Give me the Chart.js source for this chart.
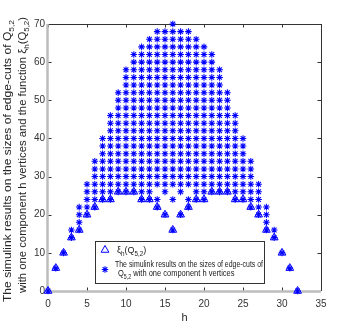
<!DOCTYPE html>
<html lang="en">
<head>
<meta charset="UTF-8">
<title>Edge-cuts of Q5,2</title>
<script src="https://cdn.jsdelivr.net/npm/chart.js"></script>
<style>
    html, body { margin: 0; padding: 0; background: #fff; }
    #wrap { width: 354px; height: 327px; }
</style>
</head>
<body>
<div id="wrap"><canvas id="grafico" width="354" height="327"></canvas></div>
<script>
    // h = number of vertices of the component
    const hValues = [0,1,2,3,4,5,6,7,8,9,10,11,12,13,14,15,16,17,18,19,20,21,22,23,24,25,26,27,28,29,30,31,32];
    // xi_h(Q5,2) (triangles)
    const xiValues = [0,6,10,14,16,20,22,24,24,26,26,26,24,24,22,20,16,20,22,24,24,26,26,26,24,24,22,20,16,14,10,6,0];
    // largest edge-cut found by the simulink runs for each h
    const simMax = [0,6,10,16,22,28,34,40,46,52,58,62,64,66,68,68,70,68,68,66,64,62,58,52,46,40,34,28,22,16,10,6,0];
    // edge-cut sizes that do not appear in a column
    const simGaps = { 14: [26], 15: [22, 24], 16: [18, 20, 22, 26], 17: [22, 24], 18: [26] };
    const xTicks = [0, 5, 10, 15, 20, 25, 30, 35];
    const yTicks = [0, 10, 20, 30, 40, 50, 60, 70];

    const azul = '#0000ff';
    const fuente = '"Liberation Sans", Arial, sans-serif';

    const xiPoints = hValues.map((h, i) => ({ x: h, y: xiValues[i] }));
    const simPoints = [];
    hValues.forEach((h, i) => {
        const gaps = simGaps[h] || [];
        for (let v = xiValues[i]; v <= simMax[i]; v += 2) {
            if (!gaps.includes(v)) simPoints.push({ x: h, y: v });
        }
    });

    // text with subscripts, pieces = [[text, isSub], ...]
    function piecesWidth(ctx, pieces, size) {
        let w = 0;
        pieces.forEach(p => {
            ctx.font = (p[1] ? size * 0.7 : size) + 'px ' + fuente;
            w += ctx.measureText(p[0]).width;
        });
        return w;
    }
    function drawPieces(ctx, pieces, x, y, size) {
        pieces.forEach(p => {
            ctx.font = (p[1] ? size * 0.7 : size) + 'px ' + fuente;
            ctx.fillText(p[0], x, p[1] ? y + size * 0.3 : y);
            x += ctx.measureText(p[0]).width;
        });
    }
    // centred line stretched to a given length
    function drawStretched(ctx, pieces, cx, y, size, len) {
        const w = piecesWidth(ctx, pieces, size);
        ctx.save();
        ctx.translate(cx - len / 2, y);
        ctx.scale(len / w, 1);
        drawPieces(ctx, pieces, 0, 0, size);
        ctx.restore();
    }

    const marcoPlugin = {
        id: 'marco',
        beforeDatasetsDraw(chart) {
            const { ctx, chartArea: a, scales } = chart;
            ctx.save();
            // top and right box lines
            ctx.strokeStyle = '#333333';
            ctx.lineWidth = 1;
            ctx.beginPath();
            ctx.moveTo(a.left, a.top + 0.5); ctx.lineTo(a.right + 0.5, a.top + 0.5);
            ctx.lineTo(a.right + 0.5, a.bottom);
            ctx.stroke();
            // inner ticks
            ctx.beginPath();
            xTicks.forEach(v => {
                const px = Math.round(scales.x.getPixelForValue(v)) + 0.5;
                ctx.moveTo(px, a.bottom); ctx.lineTo(px, a.bottom - 3.5);
                ctx.moveTo(px, a.top); ctx.lineTo(px, a.top + 3.5);
            });
            yTicks.forEach(v => {
                const py = Math.round(scales.y.getPixelForValue(v)) + 0.5;
                ctx.moveTo(a.left, py); ctx.lineTo(a.left + 3.5, py);
                ctx.moveTo(a.right, py); ctx.lineTo(a.right - 3.5, py);
            });
            ctx.stroke();
            // left and bottom axis
            ctx.strokeStyle = '#bdbdbd';
            ctx.lineWidth = 2.5;
            ctx.beginPath();
            ctx.moveTo(a.left - 0.5, a.top); ctx.lineTo(a.left - 0.5, a.bottom + 0.5);
            ctx.lineTo(a.right, a.bottom + 0.5);
            ctx.stroke();

            // axis titles
            ctx.fillStyle = '#262626';
            ctx.textBaseline = 'alphabetic';
            ctx.textAlign = 'left';
            ctx.font = '11px ' + fuente;
            const wh = ctx.measureText('h').width;
            ctx.fillText('h', (a.left + a.right) / 2 - wh / 2, 321);

            const linea1 = [['The simulink results on the sizes of edge-cuts of Q', false], ['5,2', true]];
            const linea2 = [['with one component h vertices and the function \u03BE', false], ['h', true], ['(Q', false], ['5,2', true], [')', false]];
            ctx.rotate(-Math.PI / 2);
            drawStretched(ctx, linea1, -161, 10.5, 11, 282);
            drawStretched(ctx, linea2, -155, 26, 11, 276);
            ctx.restore();
        },
        afterDraw(chart) {
            const { ctx } = chart;
            ctx.save();
            // legend box
            ctx.fillStyle = '#ffffff';
            ctx.fillRect(95, 241, 169, 43);
            ctx.strokeStyle = '#333333';
            ctx.lineWidth = 1;
            ctx.strokeRect(95.5, 241.5, 169, 42);
            ctx.strokeStyle = azul;
            Chart.helpers.drawPoint(ctx, { pointStyle: 'triangle', radius: 4.5, borderWidth: 1 }, 105, 250);
            ctx.lineWidth = 1.1;
            Chart.helpers.drawPoint(ctx, { pointStyle: 'star', radius: 3.3, borderWidth: 1.1 }, 105, 269.5);
            ctx.fillStyle = '#1a1a1a';
            ctx.textBaseline = 'alphabetic';
            ctx.textAlign = 'left';
            drawPieces(ctx, [['\u03BE', false], ['h', true], ['(Q', false], ['5,2', true], [')', false]], 117, 253, 9);
            ctx.font = '7px ' + fuente;
            const t1 = 'The simulink results on the sizes of edge-cuts of';
            ctx.save();
            ctx.translate(115, 266.5);
            ctx.scale(148 / ctx.measureText(t1).width, 1.2);
            ctx.fillText(t1, 0, 0);
            ctx.restore();
            const l2 = [['Q', false], ['5,2', true], [' with one component h vertices', false]];
            ctx.save();
            ctx.translate(118, 276);
            ctx.scale(1, 1.2);
            drawPieces(ctx, l2, 0, 0, 7.5);
            ctx.restore();
            ctx.restore();
        }
    };

    const ctx = document.getElementById('grafico').getContext('2d');
    new Chart(ctx, {
        type: 'scatter',
        data: {
            datasets: [
                {
                    label: 'xi_h(Q5,2)',
                    data: xiPoints,
                    pointStyle: 'triangle',
                    pointRadius: 4.5,
                    borderColor: azul,
                    backgroundColor: 'rgba(0,0,0,0)',
                    borderWidth: 1,
                    clip: false
                },
                {
                    label: 'The simulink results on the sizes of edge-cuts of Q5,2 with one component h vertices',
                    data: simPoints,
                    pointStyle: 'star',
                    pointRadius: 3.3,
                    borderColor: azul,
                    backgroundColor: azul,
                    borderWidth: 1.05,
                    clip: false
                }
            ]
        },
        options: {
            responsive: false,
            animation: false,
            devicePixelRatio: 1,
            events: [],
            layout: { padding: { top: 24, right: 33, left: 0, bottom: 0 } },
            plugins: { legend: { display: false }, tooltip: { enabled: false } },
            scales: {
                x: {
                    type: 'linear', min: 0, max: 35,
                    afterBuildTicks: s => { s.ticks = xTicks.map(v => ({ value: v })); },
                    afterFit: s => { s.height = 36; },
                    grid: { display: false, drawTicks: false },
                    border: { display: false },
                    ticks: { color: '#333333', padding: 7, maxRotation: 0, font: { family: fuente, size: 10 } }
                },
                y: {
                    type: 'linear', min: 0, max: 70,
                    afterBuildTicks: s => { s.ticks = yTicks.map(v => ({ value: v })); },
                    afterFit: s => { s.width = 48; },
                    grid: { display: false, drawTicks: false },
                    border: { display: false },
                    ticks: { color: '#333333', padding: 3, font: { family: fuente, size: 10 } }
                }
            }
        },
        plugins: [marcoPlugin]
    });
</script>
</body>
</html>
